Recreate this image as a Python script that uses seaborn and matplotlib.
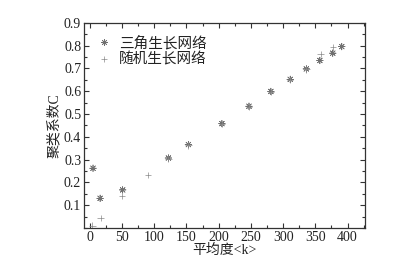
import numpy as np
import pandas as pd
import matplotlib
matplotlib.use('Agg')
import matplotlib.pyplot as plt
import seaborn as sns
from matplotlib.ticker import MultipleLocator

# data
tri_k = [5, 16, 51, 122, 153, 205, 247, 281, 311, 336, 357, 377, 391]
tri_c = [0.262, 0.130, 0.167, 0.307, 0.366, 0.458, 0.534, 0.599, 0.652, 0.698, 0.735, 0.767, 0.796]
rnd_k = [4, 17, 50, 90, 122, 153, 205, 247, 281, 311, 336, 358, 377]
rnd_c = [0.010, 0.043, 0.140, 0.233, 0.303, 0.362, 0.456, 0.532, 0.597, 0.650, 0.696, 0.764, 0.793]
names = ['三角生长网络', '随机生长网络']

df = pd.concat([
    pd.DataFrame({'k': tri_k, 'C': tri_c, 'net': names[0]}),
    pd.DataFrame({'k': rnd_k, 'C': rnd_c, 'net': names[1]}),
])

sns.set_style('ticks')
plt.rcParams['font.family'] = ['Liberation Serif', 'Noto Sans CJK SC']

fig = plt.figure(figsize=(4.2, 2.66), dpi=100)
ax = fig.add_axes([0.2, 0.143, 0.669, 0.771])

sns.scatterplot(data=df, x='k', y='C', hue='net', style='net',
                markers={names[0]: (8, 2, 0), names[1]: '+'},
                palette={names[0]: '#707070', names[1]: '#8a8a8a'},
                s=22, linewidth=0.5, ax=ax, legend=True)

ax.set_xlim(-9, 427)
ax.set_ylim(0, 0.9)
ax.set_xticks([0, 50, 100, 150, 200, 250, 300, 350, 400])
ax.set_yticks([0.1, 0.2, 0.3, 0.4, 0.5, 0.6, 0.7, 0.8, 0.9])
ax.xaxis.set_minor_locator(MultipleLocator(25))
ax.yaxis.set_minor_locator(MultipleLocator(0.05))
ax.tick_params(which='both', direction='in', top=True, right=True,
               labelsize=10, width=0.8, color='#333333', labelcolor='#222222')
ax.tick_params(which='major', length=3.5, pad=2)
ax.tick_params(which='minor', length=2)
for sp in ax.spines.values():
    sp.set_linewidth(0.9)
    sp.set_color('#333333')

ax.set_xlabel('平均度<k>', fontsize=10, labelpad=0, color='#222222')
ax.set_ylabel('聚类系数C', fontsize=10, labelpad=2, color='#222222')

leg = ax.legend(loc='upper left', frameon=False, fontsize=10.5,
                handletextpad=0.2, borderaxespad=0.2, labelspacing=0.15,
                handlelength=1.6, bbox_to_anchor=(0.0, 0.98))
for t in leg.get_texts():
    t.set_color('#222222')

fig.savefig('out.png', dpi=100)
